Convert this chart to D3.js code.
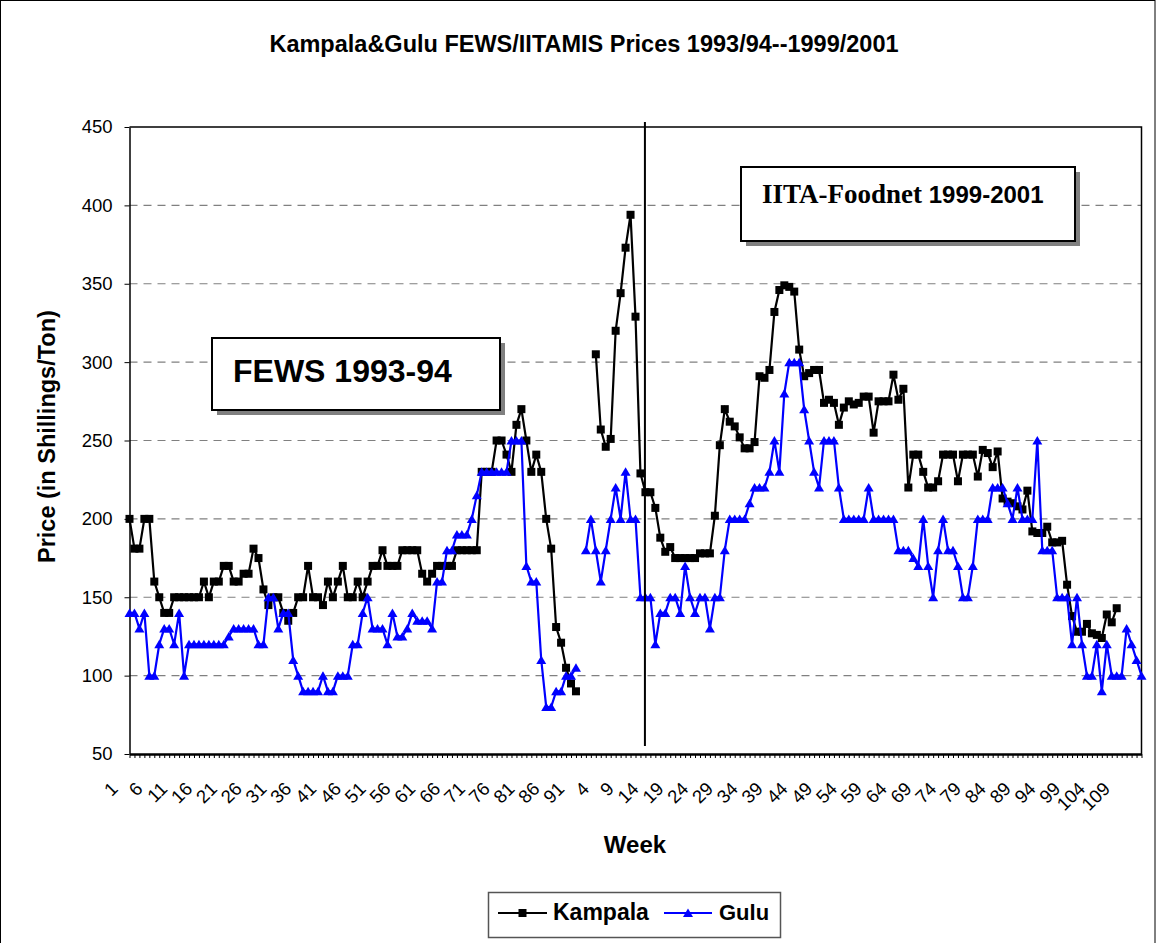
<!DOCTYPE html>
<html><head><meta charset="utf-8">
<script src="https://cdn.jsdelivr.net/npm/d3@7/dist/d3.min.js"></script>
<style>
body{margin:0;background:#fff}
svg{display:block}
text{font-family:"Liberation Sans",Arial,sans-serif;fill:#000}
</style>
</head><body>
<svg id="chart" width="1156" height="943"></svg>
<script>
// ---------- DATA ----------
const chartTitle = "Kampala&Gulu FEWS/IITAMIS Prices 1993/94--1999/2001";
const yTitle = "Price (in Shillings/Ton)";
const xTitle = "Week";
const seriesNames = ["Kampala", "Gulu"];

// category labels: FEWS weeks 1..92 then Foodnet weeks 1..113
const weekLabels = [
 1,2,3,4,5,6,7,8,9,10,11,12,13,14,15,16,17,18,19,20,21,22,23,24,25,26,27,28,29,30,
 31,32,33,34,35,36,37,38,39,40,41,42,43,44,45,46,47,48,49,50,51,52,53,54,55,56,57,58,59,60,
 61,62,63,64,65,66,67,68,69,70,71,72,73,74,75,76,77,78,79,80,81,82,83,84,85,86,87,88,89,90,91,92,
 1,2,3,4,5,6,7,8,9,10,11,12,13,14,15,16,17,18,19,20,21,22,23,24,25,26,27,28,29,30,
 31,32,33,34,35,36,37,38,39,40,41,42,43,44,45,46,47,48,49,50,51,52,53,54,55,56,57,58,59,60,
 61,62,63,64,65,66,67,68,69,70,71,72,73,74,75,76,77,78,79,80,81,82,83,84,85,86,87,88,89,90,
 91,92,93,94,95,96,97,98,99,100,101,102,103,104,105,106,107,108,109,110,111,112,113
];

const kampala = [
 200,181,181,200,200,160,150,140,140,150,
 150,150,150,150,150,160,150,160,160,170,
 170,160,160,165,165,181,175,155,145,150,
 150,140,135,140,150,150,170,150,150,145,
 160,150,160,170,150,150,160,150,160,170,
 170,180,170,170,170,180,180,180,180,165,
 160,165,170,170,170,170,180,180,180,180,
 180,230,230,230,250,250,241,230,260,270,
 250,230,241,230,200,181,131,121,105,95,
 90,null,
 null,null,305,257,246,251,320,344,
 373,394,329,229,217,217,207,188,179,182,
 175,175,175,175,175,178,178,178,202,247,
 270,262,259,252,245,245,249,291,290,295,
 332,346,349,348,345,308,291,293,295,295,
 274,276,274,260,271,275,273,274,278,278,
 255,275,275,275,292,276,283,220,241,241,
 230,220,220,224,241,241,241,224,241,241,
 241,227,244,242,233,243,213,211,210,208,
 206,218,192,191,191,195,185,185,186,158,
 138,128,128,133,127,126,124,139,134,143,
 null,null,null,null,null
];

const gulu = [
 140,140,130,140,100,100,120,130,130,120,
 140,100,120,120,120,120,120,120,120,120,
 125,130,130,130,130,130,120,120,150,150,
 130,140,140,110,100,90,90,90,90,100,
 90,90,100,100,100,120,120,140,150,130,
 130,130,120,140,125,125,130,140,135,135,
 135,130,160,160,180,180,190,190,190,200,
 215,230,230,230,230,230,230,250,250,250,
 170,160,160,110,80,80,90,90,100,100,
 105,null,
 180,200,180,160,180,200,220,200,
 230,200,200,150,150,150,120,140,140,150,
 150,140,170,150,140,150,150,130,150,150,
 180,200,200,200,200,210,220,220,220,230,
 250,230,280,300,300,300,270,250,230,220,
 250,250,250,220,200,200,200,200,200,220,
 200,200,200,200,200,180,180,180,175,170,
 200,170,150,180,200,180,180,170,150,150,
 170,200,200,200,220,220,220,210,200,220,
 200,200,200,250,180,180,180,150,150,150,
 120,150,120,100,100,120,90,120,100,100,
 100,130,120,110,100
];

const yTicks = [50,100,150,200,250,300,350,400,450];
const gridValues = [100,150,200,250,300,350,400];
const labelEvery = 5;
const dividerAt = 103.9;   // position of the hand-drawn divider (category index)
const boxes = [
  {parts:[{t:"FEWS 1993-94", serif:false, size:32}]},
  {parts:[{t:"IITA-Foodnet ", serif:true, size:27},{t:"1999-2001", serif:false, size:24}]}
];

// ---------- LAYOUT ----------
const W = 1156, H = 943;
const plot = {left:129.5, right:1141.5, top:127, bottom:754};
const svg = d3.select("#chart");

svg.append("rect").attr("x",0.5).attr("y",0.5).attr("width",W-1.5).attr("height",H+20)
  .attr("fill","#fff").attr("stroke","#000").attr("stroke-width",1);

const idx = d3.range(weekLabels.length);
const x = d3.scalePoint().domain(idx).range([plot.left, plot.right]);
const xi = d3.scaleLinear().domain([0, idx.length-1]).range([plot.left, plot.right]);
const y = d3.scaleLinear().domain([50,450]).range([plot.bottom, plot.top]);

// gridlines
svg.append("g").selectAll("line").data(gridValues).join("line")
  .attr("x1",plot.left).attr("x2",plot.right)
  .attr("y1",d=>y(d)).attr("y2",d=>y(d))
  .attr("stroke","#808080").attr("stroke-width",1.2).attr("stroke-dasharray","8,6");

// plot border top/right
svg.append("path")
  .attr("d",`M${plot.left},${plot.top}H${plot.right}V${plot.bottom}`)
  .attr("fill","none").attr("stroke","#000").attr("stroke-width",1.5);

// y axis
const yAxis = svg.append("g").attr("transform",`translate(${plot.left},0)`)
  .call(d3.axisLeft(y).tickValues(yTicks).tickSize(5).tickPadding(12).tickSizeOuter(0));
yAxis.select(".domain").attr("stroke","#000").attr("stroke-width",1.5);
yAxis.selectAll("line").attr("stroke","#000");
yAxis.selectAll("text").style("font-size","18.5px").style("font-family","'Liberation Sans',Arial,sans-serif");

// x axis
const xAxis = svg.append("g").attr("transform",`translate(0,${plot.bottom})`)
  .call(d3.axisBottom(x).tickValues(idx).tickSize(4).tickSizeOuter(0)
        .tickFormat(d => d % labelEvery === 0 ? String(weekLabels[d]) : ""));
xAxis.select(".domain").attr("stroke","#000").attr("stroke-width",2.5);
xAxis.selectAll("line").attr("stroke","#000");
xAxis.selectAll("text")
  .attr("x",0).attr("y",0).attr("dy",null)
  .attr("transform","translate(-11,36) rotate(-45)")
  .style("text-anchor","end")
  .style("font-size","18.5px").style("font-family","'Liberation Sans',Arial,sans-serif");

// series
const lineGen = d3.line().defined(d => d.v !== null).x(d => x(d.i)).y(d => y(d.v));
const kData = kampala.map((v,i)=>({i,v}));
const gData = gulu.map((v,i)=>({i,v}));
const triPath = "M0,-4.5L5,4L-5,4Z";
const sq = 8;

svg.append("path").datum(kData).attr("d",lineGen)
  .attr("fill","none").attr("stroke","#000").attr("stroke-width",2.2);
svg.append("g").selectAll("rect").data(kData.filter(d=>d.v!==null)).join("rect")
  .attr("x",d=>x(d.i)-sq/2).attr("y",d=>y(d.v)-sq/2).attr("width",sq).attr("height",sq)
  .attr("fill","#000");

svg.append("path").datum(gData).attr("d",lineGen)
  .attr("fill","none").attr("stroke","#0000FF").attr("stroke-width",2.2);
svg.append("g").selectAll("path").data(gData.filter(d=>d.v!==null)).join("path")
  .attr("d",triPath).attr("transform",d=>`translate(${x(d.i)},${y(d.v)})`)
  .attr("fill","#0000FF");

// divider line
svg.append("line").attr("x1",xi(dividerAt)).attr("x2",xi(dividerAt))
  .attr("y1",122).attr("y2",746).attr("stroke","#000").attr("stroke-width",2);

// text boxes with shadow
function textBox(bx,by,bw,bh,tx,ty,parts){
  svg.append("rect").attr("x",bx+5).attr("y",by+5).attr("width",bw).attr("height",bh).attr("fill","#808080");
  svg.append("rect").attr("x",bx).attr("y",by).attr("width",bw).attr("height",bh)
    .attr("fill","#fff").attr("stroke","#000").attr("stroke-width",2);
  const t = svg.append("text").attr("x",tx).attr("y",ty).style("font-weight","bold");
  parts.forEach(p=>{
    t.append("tspan").text(p.t)
      .style("font-family", p.serif ? "'Liberation Serif','Times New Roman',serif" : "'Liberation Sans',Arial,sans-serif")
      .style("font-size", p.size+"px");
  });
}
textBox(212,338,288,72,233,382,boxes[0].parts);
textBox(741,167,334,74,762,203,boxes[1].parts);

// titles
svg.append("text").attr("x",584).attr("y",52).attr("text-anchor","middle")
  .style("font-weight","bold").style("font-size","23.5px").text(chartTitle);
svg.append("text").attr("x",635).attr("y",853).attr("text-anchor","middle")
  .style("font-weight","bold").style("font-size","24px").text(xTitle);
svg.append("text").attr("transform","translate(55,563) rotate(-90)").attr("text-anchor","start")
  .style("font-weight","bold").style("font-size","23.5px").text(yTitle);

// legend
const lg = svg.append("g");
lg.append("rect").attr("x",488.5).attr("y",892.5).attr("width",292).attr("height",45)
  .attr("fill","#fff").attr("stroke","#555").attr("stroke-width",1.5);
const legendItems = [
  {name:seriesNames[0], color:"#000", x1:498, x2:547, tx:553, size:23, marker:"square"},
  {name:seriesNames[1], color:"#0000FF", x1:664, x2:712, tx:719, size:22, marker:"tri"}
];
legendItems.forEach(it=>{
  lg.append("line").attr("x1",it.x1).attr("x2",it.x2).attr("y1",913).attr("y2",913)
    .attr("stroke",it.color).attr("stroke-width",2);
  const cx = (it.x1+it.x2)/2;
  if(it.marker==="square"){
    lg.append("rect").attr("x",cx-sq/2).attr("y",913-sq/2).attr("width",sq).attr("height",sq).attr("fill",it.color);
  } else {
    lg.append("path").attr("d",triPath).attr("transform",`translate(${cx},913)`).attr("fill",it.color);
  }
  lg.append("text").attr("x",it.tx).attr("y",920).style("font-weight","bold")
    .style("font-size",it.size+"px").text(it.name);
});
</script>
</body></html>
